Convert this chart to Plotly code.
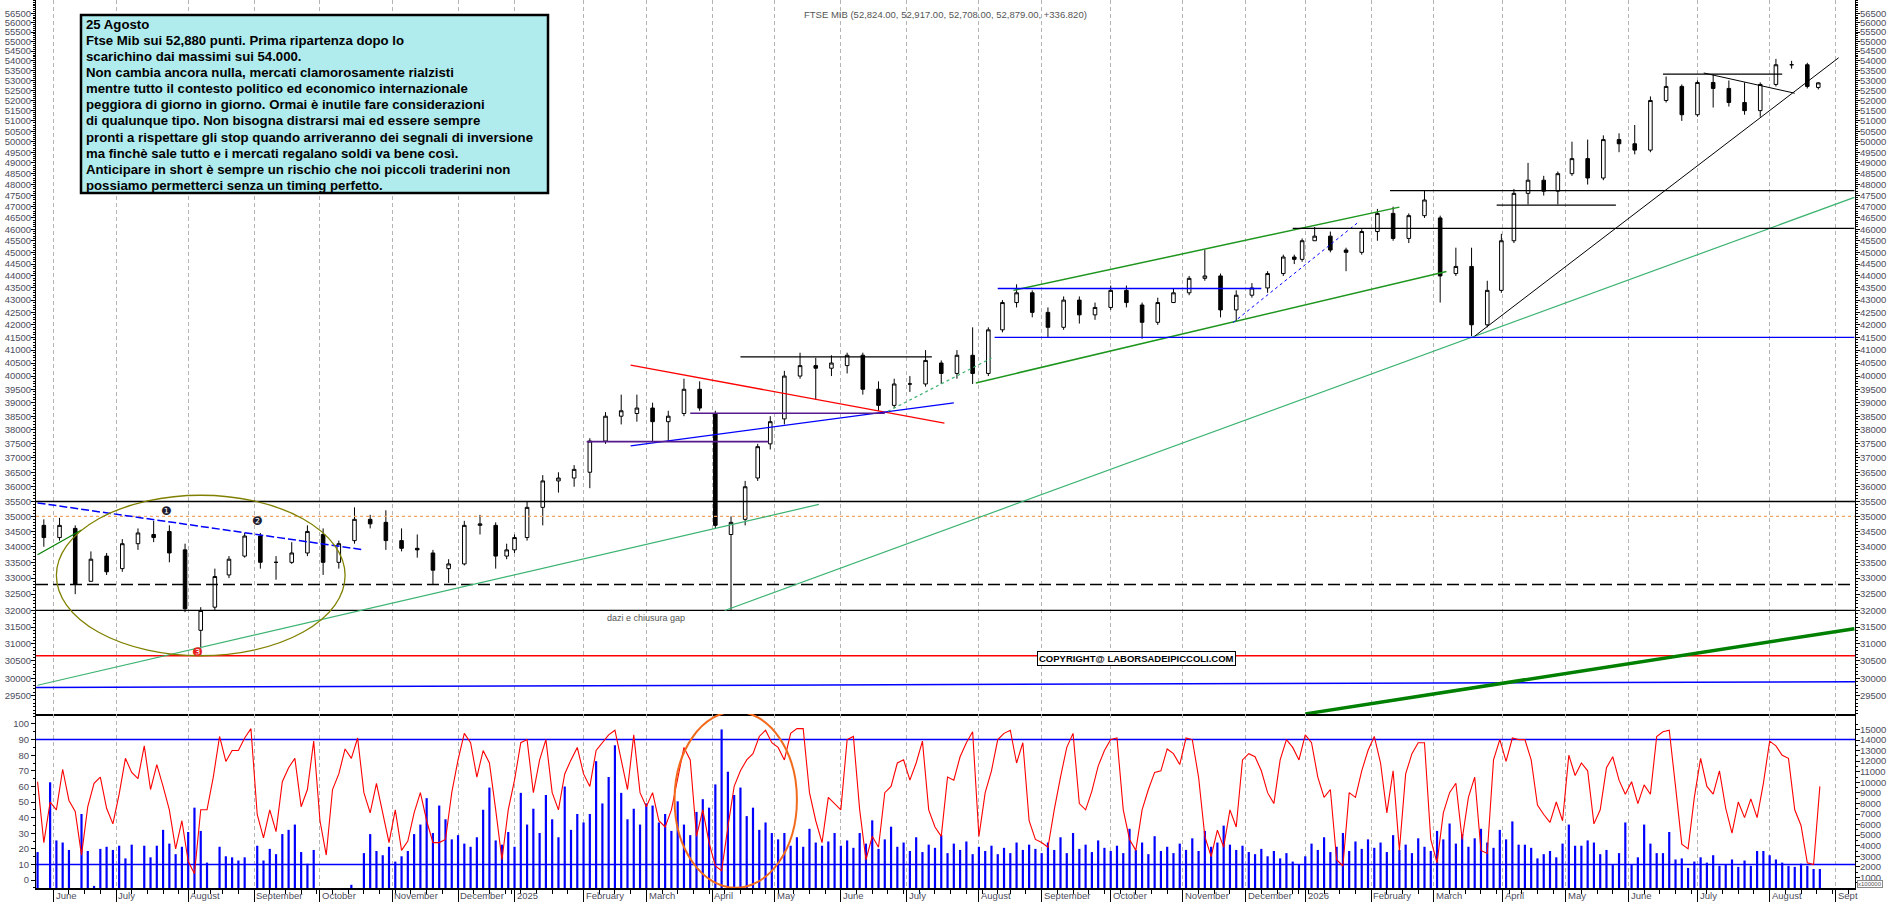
import numpy as np
import pandas as pd
import plotly.graph_objects as go

# ---------------- calendar (Borsa Italiana sessions) ----------------
HOLIDAYS = ["2024-08-15", "2024-12-24", "2024-12-25", "2024-12-26", "2024-12-31",
            "2025-01-01", "2025-04-18", "2025-04-21", "2025-05-01", "2025-08-15",
            "2025-12-24", "2025-12-25", "2025-12-26", "2025-12-31",
            "2026-01-01", "2026-04-03", "2026-04-06", "2026-05-01"]
FIRST_SESSION = "2024-05-27"
LAST_SESSION = "2026-08-25"
RIGHT_EDGE = "2026-09-09"

MONTH_LABELS = ["June", "July", "August", "September", "October", "November", "December",
                "2025", "February", "March", "April", "May", "June", "July", "August",
                "September", "October", "November", "December", "2026", "February", "March",
                "April", "May", "June", "July", "August", "Sept"]

# ---------------- weekly candles (one per week, from 27 May 2024) ----------------
week_open = [34700, 34300, 34600, 32900, 33700, 33300, 34100, 34400, 34500, 33900,
             31400, 32100, 33100, 33700, 34350, 33500, 33500, 33800, 34400, 33500,
             34200, 34900, 34800, 34200, 33950, 33800, 33300, 33450, 34700, 34700,
             33700, 33900, 34300, 35300, 36200, 36300, 36500, 37600, 38500, 38600,
             38800, 38300, 38600, 39500, 38600, 34400, 34900, 36300, 37500, 38400,
             40000, 40400, 40300, 40400, 40800, 39500, 38900, 39700, 39700, 40500,
             40100, 40800, 40100, 41800, 42900, 43300, 42500, 41900, 43000, 42400,
             42700, 43400, 42800, 42100, 42900, 43300, 43900, 44000, 42600, 43200,
             43500, 44100, 44800, 44700, 45500, 45700, 45100, 45000, 45900, 46700,
             45600, 46600, 46500, 44100, 44400, 42000, 43400, 45500, 47600, 48200,
             47700, 48500, 49200, 48300, 50100, 49900, 49600, 52000, 52700, 51300,
             52900, 52600, 51900, 51500, 52800, 53800, 53800, 52650]
week_high = [34900, 34950, 34700, 33850, 33800, 34250, 34600, 34850, 34700, 34100,
             32100, 33300, 33700, 34450, 34450, 33700, 34150, 34700, 34600, 34200,
             35300, 35050, 35200, 34600, 34400, 33900, 33600, 34850, 35050, 34800,
             34100, 34400, 35500, 36400, 36500, 36750, 37700, 38650, 39300, 39300,
             39000, 38700, 39900, 39800, 38700, 35000, 36200, 37500, 38500, 40200,
             40900, 40700, 40800, 40900, 40900, 39800, 39900, 40000, 41000, 40600,
             41000, 41900, 41900, 43000, 43650, 43400, 42700, 43150, 43150, 42900,
             43600, 43600, 42900, 43100, 43500, 44000, 45100, 44100, 43400, 43700,
             44200, 44900, 44900, 45600, 46100, 45900, 45200, 46000, 46900, 47000,
             46700, 47750, 46600, 45200, 45200, 43800, 45800, 47800, 49000, 48400,
             48600, 50000, 50100, 50300, 50400, 50800, 52200, 53200, 52800, 53000,
             53300, 53000, 52900, 52900, 54100, 54000, 53900, 52917]
week_low = [34000, 34200, 32500, 32900, 33100, 33200, 33900, 34150, 33500, 31950,
            30650, 32000, 33000, 33650, 33300, 32950, 33450, 33700, 33100, 33300,
            34100, 34600, 33900, 33850, 33650, 32800, 32850, 33400, 34400, 33300,
            33600, 33800, 34200, 34700, 35800, 36000, 35950, 37500, 38200, 38300,
            37600, 37600, 38500, 38700, 34600, 32000, 34700, 36200, 37300, 38200,
            39900, 39100, 40000, 40100, 39300, 38700, 38800, 39400, 39600, 39700,
            39900, 39700, 40000, 41700, 42700, 42300, 41500, 41800, 42050, 42200,
            42600, 42700, 41450, 42000, 42900, 43200, 43800, 42300, 42150, 43100,
            43300, 44000, 44500, 44600, 45500, 45000, 44200, 44900, 45500, 45500,
            45400, 46500, 42900, 44000, 41550, 41900, 43300, 45400, 47100, 47500,
            47100, 48400, 48000, 48200, 49500, 49400, 49500, 51900, 51000, 51200,
            51650, 51700, 51300, 51200, 52700, 53600, 52600, 52550]
week_close = [34300, 34700, 32800, 33600, 33200, 34100, 34450, 34300, 33800, 32050,
              32000, 33050, 33600, 34350, 33500, 33500, 33800, 34500, 33500, 34100,
              34900, 34750, 34200, 33950, 33900, 33250, 33450, 34700, 34750, 33700,
              33900, 34300, 35300, 36200, 36300, 36600, 37600, 38500, 38700, 38800,
              38300, 38500, 39500, 38800, 34700, 34800, 36000, 37400, 38300, 40000,
              40400, 40300, 40500, 40800, 39500, 38900, 39700, 39700, 40600, 40100,
              40800, 40100, 41800, 42900, 43300, 42500, 41900, 43000, 42400, 42700,
              43400, 42900, 42100, 42900, 43300, 43900, 44000, 42600, 43200, 43500,
              44100, 44800, 44700, 45500, 45700, 45100, 45000, 45900, 46700, 45600,
              46600, 47300, 44000, 44400, 42000, 43400, 45500, 47600, 48200, 47700,
              48500, 49200, 48300, 50100, 49900, 49600, 52000, 52700, 51300, 52900,
              52600, 51900, 51500, 52800, 53800, 53800, 52700, 52879]

# ---------------- oscillator (every second session) ----------------
oscillator = [
    63, 24, 50, 45, 71, 51, 44, 16, 47, 62, 66, 46, 36, 55, 78, 69, 65, 86, 58, 74,
    60, 45, 20, 38, 12, 4, 45, 45, 66, 92, 76, 83, 83, 91, 97, 42, 27, 45, 31, 63,
    72, 78, 47, 58, 89, 38, 16, 58, 68, 84, 78, 91, 56, 43, 62, 43, 24, 45, 19, 25,
    43,
    56, 38, 24, 24, 26, 56, 77, 94, 88, 66,
    83, 75, 45, 13, 45, 64, 88, 90, 56, 77,
    90, 56, 45, 68, 77, 85, 68, 60, 83, 88,
    93, 96, 77, 58, 93, 56, 47, 56, 38, 34,
    45, 66, 85, 77, 28, 45, 24, 9, 6, 34,
    60, 70, 77, 81, 92, 96, 88, 85, 77, 94,
    97, 97, 56, 38, 24, 53, 49, 45, 90, 92,
    45, 13, 28, 21, 56, 60, 75, 77, 64, 75,
    89, 45, 34, 28, 66, 64, 79, 88, 95, 28,
    56, 70, 90, 94, 96, 75, 88, 38, 26, 24,
    21, 45, 66, 85, 94, 49, 45, 57, 73, 83,
    90, 91, 45, 26, 19, 45, 58, 69, 70, 84,
    81, 74, 91, 90, 66, 28, 15, 32, 21, 45,
    34, 77, 81, 79, 70, 56, 49, 77, 90, 85,
    77, 93, 88, 66, 53, 58, 13, 9, 56, 53,
    70, 83, 92, 75, 43, 70, 19, 68, 81, 88,
    88, 26, 11, 43, 56, 62, 26, 53, 66, 19,
    17, 77,
    90, 76, 91, 90, 90, 77, 48, 42, 37, 50, 38, 80, 67, 75, 70, 36, 45, 72, 79, 64,
    55, 63, 49, 61, 55, 92, 95, 96, 60, 23, 20, 53, 78, 60, 55, 70, 46, 30, 50, 40,
    52, 40, 62, 89, 86, 80, 78, 45, 35, 11, 10, 60]

# ---------------- volume (x100000, every second session) ----------------
volume = [
    3400, 0, 10000, 4500, 4300, 3600, 0, 7000, 3500, 200,
    3700, 3900, 3600, 4000, 2800, 4100, 0, 4000, 2900, 4000,
    5500, 4200, 3200, 3900, 5300, 7600, 5400, 2400, 0, 3900,
    3000, 2900, 2600, 2900, 0, 4000, 2600, 3700, 3200, 5100,
    5500, 6000, 3400, 2300, 3600, 0, 0, 0, 0, 0,
    300, 0, 3300, 5100, 3500, 3100, 3900, 2500, 3000, 3500,
    5100,
    6000, 8500, 5200, 7800, 6500, 4600, 5000, 4200, 3900, 4800, 7400, 9500, 4500, 4100, 5300, 3900,
    9000, 6000, 7500, 5200, 8800, 6500, 4800, 9600, 5500, 7000, 6200,
    7000, 12000, 8000, 10500, 13500, 9000, 6500, 7500, 6000, 8000,
    7800, 6200, 7000, 5400, 8200, 6000, 5000, 7200, 8400, 7600,
    9800, 15000, 11000, 8800, 9500, 6800, 7600, 5500, 6200, 5200,
    4600, 5200, 4000, 4800, 3900, 5600, 4300, 4000, 4400, 5200, 4000,
    4500, 3800, 5200, 4200, 6400, 3700, 4600, 5800, 3900, 4300,
    3500, 4800, 3400, 4100, 3800, 5000, 3300, 4200, 3600, 4400, 3200, 3900,
    3500, 4000, 3200, 3800, 3300, 4300, 3600, 4100, 3700, 3300,
    4300, 3600, 4800, 3300, 5200, 3700, 4100, 3400, 4500, 3800, 3500,
    4000, 3300, 5600, 3600, 4300, 3200, 4900, 3500, 3900, 3300, 4200, 3600,
    4700, 3500, 5400, 3900, 4300, 5900, 4100, 3600, 4000, 3400,
    3200, 3700, 3000, 3500, 2800, 3300, 2500, 2200, 3000,
    4200, 3600, 4800, 3400, 3900, 5200, 3500, 4400, 3700, 4600,
    3800, 4300, 3400, 5000, 3600, 4100, 3300, 4700, 3900, 3500,
    5400, 4600, 6100, 4200, 5100, 3900, 4700, 5600, 4300, 3800,
    5500, 4600, 6300, 4100, 4100, 3800, 2800, 3200, 3500, 2900,
    4200, 6000, 4000, 4000, 4500, 4300, 3200, 3600, 2200, 3300,
    6200, 2200, 2900, 6000, 4200, 3300, 3300, 5300, 2700, 2800,
    1900, 2500, 2900, 2400, 3100, 2100, 2200, 2700, 2000, 2600,
    2100, 3500, 3500, 3100, 2700, 2400, 2100, 2000, 2300, 2100,
    1800, 1800]

# ---------------- drawn trend lines: (name, date0, price0, date1, price1) ----------------
trend_lines = [
    ("res_2024", "2024-05-27", 35450, "2024-10-21", 33900),
    ("sup_jun24", "2024-05-27", 33740, "2024-06-14", 34550),
    ("sup_long", "2024-05-27", 29800, "2025-05-22", 35400),
    ("sup_apr25", "2025-04-07", 32000, RIGHT_EDGE, 47420),
    ("res_red", "2025-02-24", 40420, "2025-07-17", 38250),
    ("sup_blue", "2025-02-24", 37430, "2025-07-22", 38990),
    ("lvl_purple1", "2025-02-04", 37580, "2025-04-29", 37580),
    ("lvl_purple2", "2025-03-21", 38610, "2025-06-20", 38610),
    ("lvl_40800", "2025-04-14", 40740, "2025-07-11", 40740),
    ("dot_jun25", "2025-06-23", 38680, "2025-08-07", 40690),
    ("chan_low", "2025-07-31", 39740, "2026-03-06", 44190),
    ("chan_high", "2025-08-19", 43400, "2026-02-13", 46980),
    ("lvl_43500", "2025-08-11", 43480, "2025-12-08", 43480),
    ("lvl_41500", "2025-08-08", 41500, RIGHT_EDGE, 41500),
    ("dot_nov25", "2025-11-25", 42090, "2026-01-27", 46320),
    ("lvl_46000", "2025-12-22", 46040, RIGHT_EDGE, 46040),
    ("lvl_47720", "2026-02-10", 47720, RIGHT_EDGE, 47720),
    ("lvl_47070", "2026-03-30", 47070, "2026-05-26", 47070),
    ("sup_mar26", "2026-03-19", 41550, "2026-09-02", 54160),
    ("lvl_53325", "2026-06-16", 53325, "2026-08-07", 53325),
    ("res_jul26", "2026-07-03", 53380, "2026-08-13", 52360),
    ("sup_green", "2026-01-02", 29000, RIGHT_EDGE, 31450),
]
# full-width levels: (name, price at left, price at right)
levels = [
    ("lvl_35500", 35500, 35500),
    ("lvl_35000", 35000, 35000),
    ("lvl_32800", 32800, 32800),
    ("lvl_32000", 32000, 32000),
    ("lvl_30650", 30650, 30650),
    ("lvl_29750", 29740, 29900),
]
osc_levels = [90, 10]
# olive ellipse of summer 2024: (date0, date1, price low, price high)
ellipse_2024 = ("2024-06-04", "2024-10-11", 30650, 35710)
# orange ellipse on the oscillator: (date0, date1, value low, value high)
ellipse_osc = ("2025-03-14", "2025-05-13", -5, 108)

TEXT_LINES = [
    "25 Agosto",
    "Ftse Mib sui 52,880 punti. Prima ripartenza dopo lo",
    "scarichino dai massimi sui 54.000.",
    "Non cambia ancora nulla, mercati clamorosamente rialzisti",
    "mentre tutto il contesto politico ed economico internazionale",
    "peggiora di giorno in giorno. Ormai è inutile fare considerazioni",
    "di qualunque tipo. Non bisogna distrarsi mai ed essere sempre",
    "pronti a rispettare gli stop quando arriveranno dei segnali di inversione",
    "ma finchè sale tutto e i mercati regalano soldi va bene così.",
    "Anticipare in short è sempre un rischio che noi piccoli traderini non",
    "possiamo permetterci senza un timing perfetto.",
]
TITLE = "FTSE MIB (52,824.00, 52,917.00, 52,708.00, 52,879.00, +336.820)"

# ---------------- styles ----------------
GREEN = "#1e961e"
SEA = "#3cb371"
BLUE = "#0000ff"
PURPLE = "#551a8b"
line_styles = {
    "res_2024": dict(color=BLUE, width=1.5, dash="8px,3px"),
    "sup_jun24": dict(color="#008000", width=1.2),
    "sup_long": dict(color=SEA, width=1.2),
    "sup_apr25": dict(color=SEA, width=1.2),
    "res_red": dict(color="#ff0000", width=1.3),
    "sup_blue": dict(color=BLUE, width=1.3),
    "lvl_purple1": dict(color=PURPLE, width=1.6),
    "lvl_purple2": dict(color=PURPLE, width=1.6),
    "lvl_40800": dict(color="black", width=1.3),
    "dot_jun25": dict(color=SEA, width=1.2, dash="3px,3px"),
    "chan_low": dict(color=GREEN, width=1.5),
    "chan_high": dict(color=GREEN, width=1.5),
    "lvl_43500": dict(color=BLUE, width=1.4),
    "lvl_41500": dict(color=BLUE, width=1.4),
    "dot_nov25": dict(color=BLUE, width=1, dash="3px,3px"),
    "lvl_46000": dict(color="black", width=1.3),
    "lvl_47720": dict(color="black", width=1.3),
    "lvl_47070": dict(color="black", width=1.3),
    "sup_mar26": dict(color="black", width=1),
    "lvl_53325": dict(color="black", width=1.3),
    "res_jul26": dict(color="black", width=1),
    "sup_green": dict(color="#008000", width=3.5),
    "lvl_35500": dict(color="black", width=1.5),
    "lvl_35000": dict(color="#f4a460", width=1.2, dash="3px,3px"),
    "lvl_32800": dict(color="black", width=1.5, dash="12px,5px"),
    "lvl_32000": dict(color="black", width=1.3),
    "lvl_30650": dict(color="#ff0000", width=1.3),
    "lvl_29750": dict(color=BLUE, width=1.5),
}
TICK_FONT = dict(family="Liberation Sans, Arial", size=9.5, color="#4d4d5c")

# ---------------- session index ----------------
sessions = pd.bdate_range(FIRST_SESSION, "2026-09-30", freq="C", holidays=HOLIDAYS)
idx = pd.Series(np.arange(len(sessions)), index=sessions)


def k(d):
    return int(idx[pd.Timestamp(d)])


data_sessions = sessions[sessions <= LAST_SESSION]
s = idx[data_sessions]
week_x = s.groupby(data_sessions.to_period("W-SUN")).mean().to_numpy()
osc_x = np.arange(0, len(data_sessions), 2)

x_lo, x_hi = -0.5, k(RIGHT_EDGE) + 0.2

tick_sessions = sessions[(sessions >= "2024-06-01") & (sessions <= RIGHT_EDGE)]
month_k = idx[tick_sessions].groupby(tick_sessions.to_period("M")).min().to_numpy()
week_k = idx[tick_sessions].groupby(tick_sessions.to_period("W-SUN")).min().to_numpy()

yr = [np.log10(28996), np.log10(57220)]


def ydom(p):
    # fraction of the price panel height for a price on the log scale
    return (np.log10(p) - yr[0]) / (yr[1] - yr[0])


# ---------------- figure ----------------
fig = go.Figure()

fig.add_trace(go.Candlestick(
    x=week_x, open=week_open, high=week_high, low=week_low, close=week_close,
    increasing=dict(fillcolor="white", line=dict(color="black", width=1)),
    decreasing=dict(fillcolor="black", line=dict(color="black", width=1)),
    whiskerwidth=0, showlegend=False, hoverinfo="skip", xaxis="x", yaxis="y"))

for name, p0, p1 in levels:
    fig.add_trace(go.Scatter(x=[x_lo, x_hi], y=[p0, p1], mode="lines", line=line_styles[name],
                             showlegend=False, hoverinfo="skip", xaxis="x", yaxis="y"))

for name, d0, p0, d1, p1 in trend_lines:
    fig.add_trace(go.Scatter(x=[k(d0), k(d1)], y=[p0, p1], mode="lines", line=line_styles[name],
                             showlegend=False, hoverinfo="skip", xaxis="x", yaxis="y"))

# right-hand price axis carrier
fig.add_trace(go.Scatter(x=[x_lo], y=[40000], mode="markers", marker=dict(opacity=0),
                         showlegend=False, hoverinfo="skip", xaxis="x", yaxis="y2"))

# lower panel: volume (base axis, labels right) and oscillator (overlay, labels left)
fig.add_trace(go.Bar(x=osc_x, y=volume, width=0.7, marker=dict(color=BLUE, line=dict(width=0)),
                     showlegend=False, hoverinfo="skip", xaxis="x2", yaxis="y3"))
for lv in osc_levels:
    fig.add_trace(go.Scatter(x=[x_lo, x_hi], y=[lv, lv], mode="lines", line=dict(color=BLUE, width=1.5),
                             showlegend=False, hoverinfo="skip", xaxis="x2", yaxis="y4"))
fig.add_trace(go.Scatter(x=osc_x, y=oscillator, mode="lines", line=dict(color="#ff0000", width=1.1),
                         showlegend=False, hoverinfo="skip", xaxis="x2", yaxis="y4"))

# ellipses
d0, d1, plo, phi = ellipse_2024
fig.add_shape(type="circle", xref="x", yref="y domain", x0=k(d0), x1=k(d1),
              y0=ydom(plo), y1=ydom(phi), line=dict(color="#808000", width=1.3))
d0, d1, vlo, vhi = ellipse_osc
fig.add_shape(type="circle", xref="x2", yref="y4", x0=k(d0), x1=k(d1),
              y0=vlo, y1=vhi, line=dict(color="#f26b1d", width=2))

# text box
fig.add_shape(type="rect", xref="paper", yref="paper", x0=(81 - 36) / 1819, x1=(548 - 36) / 1819,
              y0=(888 - 193) / 888, y1=(888 - 15) / 888, fillcolor="#b0ecee",
              line=dict(color="black", width=2.5), layer="above")
for i, t in enumerate(TEXT_LINES):
    fig.add_annotation(x=(84 - 36) / 1819, y=(888 - (24.3 + 16.1 * i)) / 888, xref="paper", yref="paper",
                       text="<b>%s</b>" % t, showarrow=False, xanchor="left", yanchor="middle",
                       font=dict(family="Liberation Sans, Arial", size=13.2, color="black"))

fig.add_annotation(x=0.5, y=(888 - 7) / 888, xref="paper", yref="paper", text=TITLE, showarrow=False,
                   font=dict(family="Liberation Sans, Arial", size=9.5, color="#555555"))
fig.add_annotation(x=(1136 - 36) / 1819, y=(888 - 665.5) / 888, xref="paper", yref="paper",
                   text="<b>COPYRIGHT@ LABORSADEIPICCOLI.COM</b>", showarrow=False,
                   bgcolor="white", bordercolor="black", borderwidth=1, borderpad=1,
                   font=dict(family="Liberation Sans, Arial", size=9.5, color="black"))
fig.add_annotation(x=k("2025-03-03"), y=np.log10(31780), xref="x", yref="y", text="dazi e chiusura gap",
                   showarrow=False, font=dict(family="Liberation Sans, Arial", size=9, color="#555555"))
for sym, d, p, col in [("❶", "2024-07-23", 35190, "#1c1c30"), ("❷", "2024-09-03", 34850, "#1c1c30"),
                       ("❸", "2024-08-06", 30760, "#e8201c")]:
    fig.add_annotation(x=k(d), y=np.log10(p), xref="x", yref="y", text=sym, showarrow=False,
                       font=dict(family="DejaVu Sans", size=12, color=col))
fig.add_annotation(x=1 + 2 / 1819, y=0, xref="paper", yref="paper", text="x100000", showarrow=False,
                   xanchor="left", yanchor="bottom",
                   bgcolor="white", bordercolor="#888888", borderwidth=1, borderpad=0,
                   font=dict(family="Liberation Sans, Arial", size=6, color="#555555"))

# month labels, left-aligned after each month line
for mk, lab in zip(month_k, MONTH_LABELS):
    fig.add_annotation(x=mk + 0.4, y=-1 / 888, xref="x2", yref="paper", text=lab, showarrow=False,
                       xanchor="left", yanchor="top", borderpad=0,
                       font=dict(family="Liberation Sans, Arial", size=9.5, color="#4d4d5c"))

price_ticks = list(range(29500, 57000, 500))
price_minor = list(range(29000, 57300, 100))
vol_ticks = list(range(1000, 16000, 1000))
osc_ticks = list(range(0, 101, 10))
main_dom = [(888 - 714) / 888, 1]
low_dom = [0, (888 - 714) / 888]

price_axis = dict(type="log", range=yr, domain=main_dom, tickmode="array", tickvals=price_ticks,
                  ticktext=[str(v) for v in price_ticks], ticks="outside", ticklen=4, tickcolor="black",
                  minor=dict(tickmode="array", tickvals=price_minor, ticks="outside", ticklen=2,
                             tickcolor="black"),
                  showgrid=False, zeroline=False, showline=True, linecolor="black", linewidth=1,
                  tickfont=TICK_FONT, ticklabelstandoff=-2, fixedrange=True)
grid = dict(showgrid=True, gridcolor="#b4b4b4", griddash="4px,3px", gridwidth=1)

fig.update_layout(
    width=1890, height=902, margin=dict(l=36, r=35, t=0, b=14),
    paper_bgcolor="white", plot_bgcolor="white", boxgap=0.35, showlegend=False,
    xaxis=dict(domain=[0, 1], anchor="y", range=[x_lo, x_hi], tickmode="array", tickvals=month_k,
               showticklabels=False, ticks="", zeroline=False, showline=True, linecolor="black",
               linewidth=1.5, rangeslider=dict(visible=False), **grid),
    xaxis2=dict(domain=[0, 1], anchor="y3", matches="x", range=[x_lo, x_hi], tickmode="array",
                tickvals=month_k, showticklabels=False, ticks="outside", ticklen=12, tickcolor="black",
                minor=dict(tickmode="array", tickvals=week_k, ticks="outside", ticklen=4, tickcolor="black"),
                zeroline=False, showline=True, linecolor="black", linewidth=1.5, **grid),
    yaxis=dict(price_axis, side="left", anchor="x"),
    yaxis2=dict(price_axis, side="right", anchor="x", overlaying="y"),
    yaxis3=dict(domain=low_dom, anchor="x2", side="right", range=[0, 16460], tickmode="array",
                tickvals=vol_ticks, ticktext=[str(v) for v in vol_ticks], ticks="outside", ticklen=4,
                tickcolor="black",
                minor=dict(tickmode="array", tickvals=list(range(500, 16000, 1000)), ticks="outside",
                           ticklen=2, tickcolor="black"),
                showgrid=False, zeroline=False, showline=True, linecolor="black", tickfont=TICK_FONT,
                ticklabelstandoff=-2),
    yaxis4=dict(domain=low_dom, anchor="x2", overlaying="y3", side="left", range=[-5.1, 106.4],
                tickmode="array", tickvals=osc_ticks, ticktext=[str(v) for v in osc_ticks], ticks="outside",
                ticklen=4, tickcolor="black",
                minor=dict(tickmode="array", tickvals=list(range(-5, 106, 10)), ticks="outside",
                           ticklen=2, tickcolor="black"),
                showgrid=False, zeroline=False, showline=True, linecolor="black", tickfont=TICK_FONT),
)

# the page is photographed at exactly the figure size: drop the default body margin and the modebar
fig.write_html("out.html", config={"displayModeBar": False},
               post_script="document.body.style.margin='0';document.body.style.overflow='hidden';")
